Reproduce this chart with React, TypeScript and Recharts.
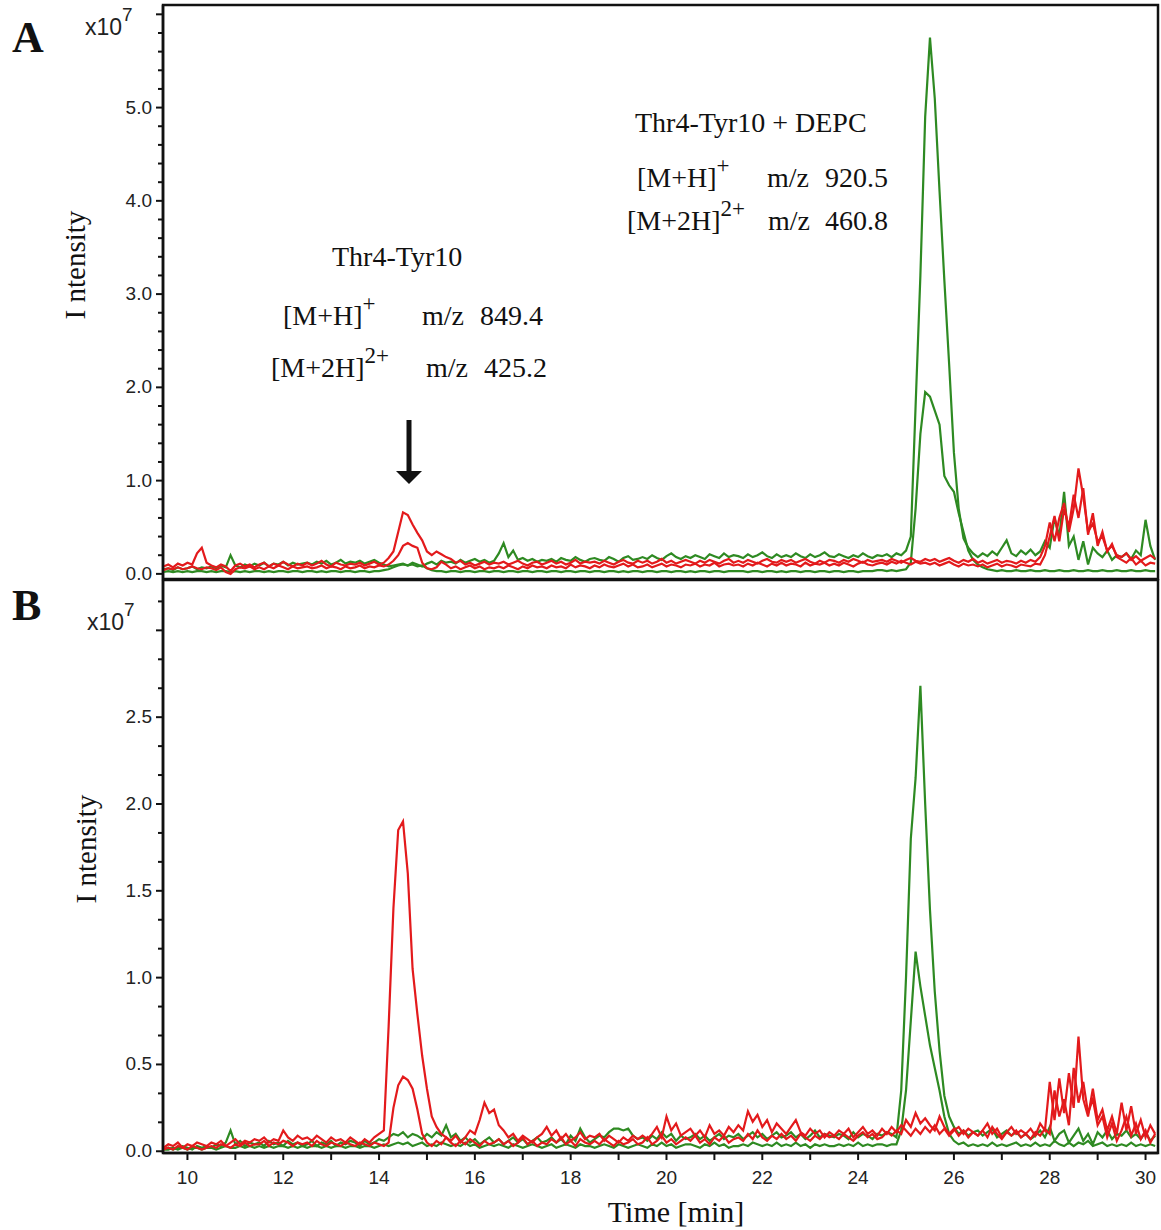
import { LineChart, Line, XAxis, YAxis, ReferenceArea } from 'recharts';

// retention time grid: one sample every 0.1 min starting at 9.5 min
const T0 = 9.5;
const DT = 0.1;

// extracted ion intensities, in units of 1e5 counts (100 = 1.0 x10^7)
// panel A
const aRedMH = [
  8, 10, 7, 11, 9, 12, 10, 22, 28, 12,
  9, 7, 10, 8, 3, 9, 11, 8, 10, 7,
  10, 12, 8, 11, 9, 13, 10, 8, 11, 9,
  12, 9, 11, 14, 10, 8, 12, 10, 9, 11,
  10, 12, 9, 11, 13, 10, 12, 17, 24, 45,
  66, 63, 53, 44, 36, 24, 20, 24, 21, 18,
  16, 12, 14, 10, 12, 9, 11, 13, 10, 12,
  11, 13, 10, 12, 14, 11, 9, 12, 13, 10,
  12, 14, 11, 13, 10, 12, 15, 11, 13, 12,
  13, 11, 14, 12, 10, 13, 15, 12, 11, 14,
  12, 14, 11, 13, 16, 12, 14, 11, 13, 15,
  13, 11, 14, 12, 15, 13, 11, 14, 16, 12,
  14, 12, 15, 13, 11, 14, 16, 13, 12, 15,
  13, 15, 12, 14, 16, 13, 11, 14, 12, 15,
  14, 12, 15, 13, 16, 14, 12, 15, 13, 14,
  15, 13, 16, 14, 12, 15, 17, 14, 13, 16,
  14, 16, 13, 15, 17, 14, 12, 15, 13, 16,
  12, 14, 11, 13, 15, 12, 14, 13, 11, 14,
  12, 15, 13, 18, 30, 55, 35, 60, 76, 45,
  70, 113, 83, 45, 54, 35, 40, 25, 30, 20,
  18, 22, 15, 19, 14, 17, 20, 16,
];
const aRed2H = [
  4, 6, 5, 7, 5, 6, 8, 6, 5, 7,
  6, 4, 7, 2, 0, 5, 7, 6, 8, 5,
  7, 5, 8, 6, 9, 7, 5, 8, 6, 7,
  8, 6, 7, 9, 6, 8, 7, 5, 8, 6,
  7, 9, 6, 8, 7, 9, 8, 10, 14, 20,
  30, 33, 30, 28, 12, 6, 5, 7, 13, 10,
  6, 8, 5, 7, 9, 6, 8, 5, 7, 6,
  8, 6, 9, 7, 5, 8, 6, 9, 7, 8,
  6, 9, 7, 8, 6, 10, 7, 9, 8, 6,
  9, 7, 10, 8, 7, 9, 11, 8, 10, 7,
  8, 10, 7, 9, 11, 8, 10, 9, 7, 10,
  9, 11, 8, 10, 9, 12, 8, 10, 11, 9,
  10, 8, 11, 9, 12, 10, 8, 11, 9, 12,
  9, 11, 10, 8, 12, 9, 11, 10, 12, 9,
  11, 9, 12, 10, 8, 11, 13, 10, 9, 11,
  12, 10, 13, 11, 14, 12, 10, 13, 11, 12,
  10, 12, 9, 11, 13, 10, 8, 11, 9, 10,
  8, 10, 7, 9, 11, 8, 10, 9, 7, 10,
  9, 8, 11, 10, 20, 40, 62, 35, 70, 50,
  85, 60, 92, 42, 65, 30, 45, 24, 32, 18,
  15, 12, 17, 10, 14, 9, 12, 11,
];
const aGreenMH = [
  5, 6, 4, 7, 5, 6, 8, 5, 7, 6,
  8, 6, 9, 7, 20, 9, 7, 10, 8, 11,
  9, 12, 8, 11, 10, 13, 9, 12, 10, 11,
  12, 10, 13, 11, 14, 10, 12, 15, 11, 13,
  12, 14, 11, 13, 15, 12, 10, 8, 9, 10,
  11, 9, 12, 10, 8, 11, 13, 10, 14, 12,
  13, 11, 15, 12, 14, 16, 13, 15, 12, 14,
  22, 33, 18, 25, 15, 17, 14, 16, 13, 15,
  14, 16, 13, 17, 15, 14, 18, 15, 13, 16,
  17, 15, 14, 18, 16, 13, 17, 19, 15, 16,
  18, 16, 20, 17, 15, 19, 22, 18, 16, 19,
  17, 20, 18, 16, 21, 19, 17, 22, 18, 20,
  19, 17, 21, 18, 20, 23, 19, 17, 21, 18,
  20, 18, 22, 19, 17, 21, 18, 20, 23, 19,
  18, 21, 19, 17, 20, 18, 22, 19, 17, 20,
  19, 21, 18, 22, 20, 25, 40, 180, 320, 490,
  575, 510, 410, 315, 225, 130, 70, 38, 28, 22,
  18, 22, 19, 24, 20, 28, 36, 22, 19, 25,
  21, 26, 20, 24, 35, 28, 60, 40, 88, 30,
  40, 15, 35, 10, 28, 22, 18, 25, 15, 20,
  18, 22, 16, 25, 20, 58, 30, 15,
];
const aGreen2H = [
  2, 3, 2, 3, 2, 3, 2, 3, 3, 2,
  3, 2, 3, 3, 2, 3, 2, 3, 2, 3,
  3, 2, 3, 2, 3, 3, 2, 3, 3, 2,
  3, 3, 2, 3, 2, 3, 3, 2, 3, 3,
  2, 3, 3, 2, 3, 3, 4, 5, 7, 9,
  10, 9, 10, 8, 9, 6, 4, 3, 3, 2,
  3, 3, 2, 3, 3, 2, 3, 3, 2, 3,
  3, 2, 3, 3, 2, 3, 3, 2, 3, 3,
  2, 3, 3, 2, 3, 3, 2, 3, 3, 2,
  3, 3, 2, 3, 3, 2, 3, 2, 3, 3,
  2, 3, 3, 2, 3, 3, 2, 3, 3, 2,
  3, 2, 3, 3, 2, 3, 3, 2, 3, 3,
  3, 3, 2, 3, 3, 2, 3, 3, 2, 3,
  2, 3, 3, 2, 3, 3, 2, 3, 3, 2,
  3, 3, 2, 3, 3, 2, 3, 3, 3, 4,
  4, 3, 4, 3, 4, 5, 12, 70, 150, 195,
  190, 175, 160, 105, 95, 88, 65, 45, 25, 15,
  10, 7, 5, 4, 3, 4, 3, 3, 4, 3,
  3, 4, 3, 3, 4, 3, 3, 4, 3, 3,
  4, 3, 3, 4, 3, 3, 4, 3, 3, 4,
  3, 3, 4, 3, 3, 4, 3, 3,
];

// panel B
const bRedMH = [
  2, 4, 3, 5, 2, 4, 3, 5, 4, 3,
  5, 4, 6, 3, 5, 7, 4, 6, 5, 7,
  6, 8, 5, 7, 6, 12, 8, 6, 9, 7,
  8, 6, 9, 7, 5, 8, 6, 7, 5, 8,
  6, 4, 7, 5, 8, 10, 12, 72, 140, 185,
  190, 160, 105, 79, 55, 36, 20, 14, 10, 8,
  6, 9, 5, 8, 12, 10, 18, 28, 22, 24,
  15, 12, 8, 10, 6, 9, 7, 5, 8, 10,
  14, 9, 12, 7, 10, 6, 8, 11, 7, 9,
  8, 10, 6, 9, 7, 5, 8, 6, 9, 7,
  9, 7, 10, 14, 8, 20, 12, 16, 9, 11,
  13, 9, 12, 8, 15, 10, 12, 9, 14, 11,
  15, 12, 23, 17, 21, 14, 18, 11, 16, 13,
  10, 14, 18, 11, 9, 13, 10, 12, 8, 11,
  9, 12, 10, 13, 8, 11, 14, 10, 12, 9,
  13, 10, 14, 11, 15, 12, 9, 13, 10, 14,
  11, 15, 10, 13, 9, 12, 14, 10, 13, 11,
  9, 12, 16, 10, 13, 8, 11, 14, 10, 12,
  10, 13, 9, 16, 12, 40, 18, 42, 22, 45,
  25, 66, 30, 20, 36, 18, 24, 12, 20, 10,
  28, 12, 26, 10, 18, 8, 15, 10,
];
const bRed2H = [
  1, 2, 1, 3, 2, 1, 3, 2, 1, 2,
  3, 2, 4, 3, 2, 4, 3, 5, 3, 4,
  4, 6, 3, 5, 4, 6, 5, 3, 5, 4,
  5, 3, 6, 4, 3, 5, 4, 3, 5, 4,
  3, 5, 4, 3, 5, 4, 3, 5, 25, 38,
  43, 41, 36, 24, 10, 5, 3, 6, 4, 8,
  5, 3, 6, 4, 7, 5, 3, 6, 4, 5,
  7, 4, 6, 3, 5, 8, 4, 6, 3, 5,
  4, 7, 5, 8, 4, 6, 3, 7, 5, 4,
  6, 4, 7, 5, 3, 6, 4, 5, 7, 4,
  5, 8, 4, 6, 9, 5, 7, 4, 6, 8,
  6, 9, 5, 7, 4, 8, 6, 9, 5, 7,
  8, 6, 10, 7, 12, 8, 6, 9, 7, 10,
  7, 9, 6, 10, 8, 6, 9, 7, 10, 8,
  9, 7, 10, 8, 6, 9, 11, 8, 10, 7,
  8, 11, 9, 12, 10, 18, 14, 22, 16, 19,
  15, 12, 20, 14, 10, 13, 9, 12, 8, 11,
  9, 12, 8, 14, 10, 7, 11, 9, 12, 8,
  10, 7, 11, 9, 13, 10, 35, 20, 30, 15,
  48, 28, 40, 22, 30, 15, 20, 8, 16, 6,
  12, 20, 9, 16, 7, 12, 5, 10,
];
const bGreenMH = [
  1, 2, 1, 2, 3, 2, 1, 3, 2, 3,
  2, 4, 3, 5, 12, 4, 6, 3, 5, 4,
  5, 3, 6, 4, 5, 3, 6, 4, 5, 3,
  4, 6, 3, 5, 4, 6, 3, 5, 4, 6,
  5, 3, 6, 4, 5, 7, 6, 8, 10, 9,
  11, 8, 10, 9, 7, 10, 8, 11, 9, 15,
  8, 10, 6, 8, 5, 7, 4, 6, 8, 5,
  7, 4, 6, 8, 5, 7, 4, 6, 8, 5,
  6, 8, 5, 7, 4, 9, 6, 13, 8, 5,
  7, 9, 8, 11, 13, 13, 12, 13, 9, 7,
  8, 6, 9, 7, 11, 8, 10, 6, 9, 7,
  8, 10, 7, 9, 6, 8, 10, 7, 9, 8,
  10, 7, 9, 11, 8, 10, 7, 9, 11, 8,
  9, 11, 8, 10, 7, 9, 12, 8, 10, 9,
  8, 10, 9, 7, 11, 8, 10, 9, 7, 10,
  9, 11, 10, 8, 35, 100, 180, 215, 268, 200,
  139, 92, 58, 32, 20, 14, 10, 12, 9, 11,
  12, 9, 11, 13, 8, 10, 12, 9, 11, 8,
  10, 7, 9, 12, 8, 14, 6, 10, 12, 5,
  9, 13, 6, 10, 4, 11, 8, 12, 7, 10,
  9, 12, 8, 10, 7, 11, 6, 9,
];
const bGreen2H = [
  1, 1, 2, 1, 2, 1, 2, 2, 1, 2,
  2, 1, 2, 3, 2, 2, 3, 2, 3, 2,
  3, 2, 3, 2, 3, 3, 2, 3, 2, 3,
  2, 3, 3, 2, 3, 2, 3, 3, 2, 3,
  3, 2, 3, 3, 2, 3, 4, 3, 4, 5,
  4, 5, 3, 4, 5, 3, 4, 3, 5, 4,
  3, 4, 3, 5, 3, 4, 2, 3, 4, 3,
  4, 3, 2, 4, 3, 2, 3, 4, 3, 2,
  3, 4, 2, 3, 4, 3, 2, 4, 3, 3,
  2, 3, 4, 3, 2, 4, 3, 2, 3, 4,
  3, 2, 4, 3, 5, 3, 4, 2, 3, 4,
  4, 3, 2, 4, 3, 5, 3, 4, 2, 3,
  3, 4, 3, 5, 4, 3, 4, 3, 5, 3,
  4, 3, 5, 3, 4, 2, 4, 3, 4, 3,
  3, 4, 3, 4, 3, 5, 3, 4, 3, 4,
  4, 3, 4, 4, 12, 35, 75, 115, 95, 78,
  61, 48, 35, 20, 10, 6, 4, 5, 3, 4,
  3, 4, 3, 5, 3, 4, 3, 4, 5, 3,
  4, 3, 5, 3, 4, 3, 6, 4, 3, 5,
  3, 5, 4, 6, 3, 4, 5, 3, 4, 3,
  4, 3, 5, 3, 4, 3, 4, 3,
];

const xTicks = [10, 11, 12, 13, 14, 15, 16, 17, 18, 19, 20, 21, 22, 23, 24, 25, 26, 27, 28, 29, 30];
const aYTicks = [
  0, 20, 40, 60, 80, 100, 120, 140, 160, 180, 200, 220, 240, 260, 280, 300,
  320, 340, 360, 380, 400, 420, 440, 460, 480, 500, 520, 540, 560, 580, 600,
];
const bYTicks = [
  0, 16.67, 33.33, 50, 66.67, 83.33, 100, 116.67, 133.33, 150, 166.67, 183.33,
  200, 216.67, 233.33, 250, 266.67, 283.33, 300, 316.67,
];

const X_DOMAIN: [number, number] = [9.49, 30.26];
const A_DOMAIN: [number, number] = [-5.5, 610];
const B_DOMAIN: [number, number] = [-1, 329];

const RED = '#e31a1c';
const GREEN = '#2e8a22';
const INK = '#111';
const SANS = '"Liberation Sans", Arial, sans-serif';
const SERIF = '"Liberation Serif", "Times New Roman", serif';

function buildRows(r1: number[], r2: number[], g1: number[], g2: number[]) {
  const n = Math.min(r1.length, r2.length, g1.length, g2.length);
  const rows = [];
  for (let i = 0; i < n; i++) {
    rows.push({ t: +(T0 + i * DT).toFixed(1), r1: r1[i], r2: r2[i], g1: g1[i], g2: g2[i] });
  }
  return rows;
}

const rowsA = buildRows(aRedMH, aRed2H, aGreenMH, aGreen2H);
const rowsB = buildRows(bRedMH, bRed2H, bGreenMH, bGreen2H);

const YTick = (props: any) => {
  const { x, y, payload, step, maxLabel } = props;
  const v = payload.value;
  const isMajor = Math.abs(v / step - Math.round(v / step)) < 1e-3;
  return (
    <g>
      <line x1={x} x2={x - (isMajor ? 7 : 5)} y1={y} y2={y} stroke={INK} strokeWidth={2} />
      {isMajor && v <= maxLabel && (
        <text x={x - 11} y={y + 6} textAnchor="end" fontFamily={SANS} fontSize={19} fill="#222">
          {(v / 100).toFixed(1)}
        </text>
      )}
    </g>
  );
};

const XTick = (props: any) => {
  const { x, y, payload } = props;
  const v = payload.value;
  return (
    <g>
      <line x1={x} x2={x} y1={y} y2={y + 7} stroke={INK} strokeWidth={2} />
      {v % 2 === 0 && (
        <text x={x} y={y + 31} textAnchor="middle" fontFamily={SANS} fontSize={19} fill="#222">
          {v}
        </text>
      )}
    </g>
  );
};

function traces() {
  return [
    <Line key="g2" dataKey="g2" type="linear" stroke={GREEN} strokeWidth={2.2} dot={false} isAnimationActive={false} />,
    <Line key="g1" dataKey="g1" type="linear" stroke={GREEN} strokeWidth={2.2} dot={false} isAnimationActive={false} />,
    <Line key="r2" dataKey="r2" type="linear" stroke={RED} strokeWidth={2.2} dot={false} isAnimationActive={false} />,
    <Line key="r1" dataKey="r1" type="linear" stroke={RED} strokeWidth={2.2} dot={false} isAnimationActive={false} />,
  ];
}

function Annotations() {
  const txt = { fontFamily: SERIF, fontSize: 28, fill: INK };
  const sup = { fontSize: 23 };
  return (
    <svg width={1161} height={1230} style={{ position: 'absolute', left: 0, top: 0, pointerEvents: 'none' }}>
      <text x={12} y={52} fontFamily={SERIF} fontWeight="bold" fontSize={44} fill={INK}>A</text>
      <text x={12} y={620} fontFamily={SERIF} fontWeight="bold" fontSize={44} fill={INK}>B</text>

      <text x={85} y={35} fontFamily={SANS} fontSize={23} fill="#222">
        x10<tspan dy={-14} fontSize={19}>7</tspan>
      </text>
      <text x={87} y={630} fontFamily={SANS} fontSize={23} fill="#222">
        x10<tspan dy={-14} fontSize={19}>7</tspan>
      </text>

      <text transform="translate(85,265) rotate(-90)" textAnchor="middle" fontFamily={SERIF} fontSize={29} fill={INK}>
        I ntensity
      </text>
      <text transform="translate(96,849) rotate(-90)" textAnchor="middle" fontFamily={SERIF} fontSize={29} fill={INK}>
        I ntensity
      </text>
      <text x={676} y={1222} textAnchor="middle" fontFamily={SERIF} fontSize={30} fill={INK}>
        Time [min]
      </text>

      <text x={332} y={266} {...txt}>Thr4-Tyr10</text>
      <text x={283} y={325} {...txt}>[M+H]<tspan dy={-14} {...sup}>+</tspan></text>
      <text x={422} y={325} {...txt}>m/z</text>
      <text x={480} y={325} {...txt}>849.4</text>
      <text x={271} y={377} {...txt}>[M+2H]<tspan dy={-14} {...sup}>2+</tspan></text>
      <text x={426} y={377} {...txt}>m/z</text>
      <text x={484} y={377} {...txt}>425.2</text>

      <text x={635} y={132} {...txt}>Thr4-Tyr10 + DEPC</text>
      <text x={637} y={187} {...txt}>[M+H]<tspan dy={-14} {...sup}>+</tspan></text>
      <text x={767} y={187} {...txt}>m/z</text>
      <text x={825} y={187} {...txt}>920.5</text>
      <text x={627} y={230} {...txt}>[M+2H]<tspan dy={-14} {...sup}>2+</tspan></text>
      <text x={768} y={230} {...txt}>m/z</text>
      <text x={825} y={230} {...txt}>460.8</text>

      <line x1={409} x2={409} y1={420} y2={474} stroke={INK} strokeWidth={5} />
      <polygon points="396,471 422,471 409,484" fill={INK} />
    </svg>
  );
}

export default function App() {
  return (
    <div style={{ position: 'absolute', left: 0, top: 0, width: 1161, height: 1230, background: '#fff' }}>
      <div style={{ position: 'absolute', left: 0, top: 0 }}>
        <LineChart width={1161} height={592} data={rowsA} margin={{ top: 5, right: 3, bottom: 13, left: 162 }}>
          <XAxis dataKey="t" type="number" domain={X_DOMAIN} allowDataOverflow hide />
          <YAxis
            type="number"
            domain={A_DOMAIN}
            allowDataOverflow
            width={1}
            ticks={aYTicks}
            interval={0}
            tickSize={0}
            tickMargin={0}
            axisLine={{ stroke: INK, strokeWidth: 2.5 }}
            tick={(p: any) => <YTick {...p} step={100} maxLabel={500} />}
          />
          <ReferenceArea x1={X_DOMAIN[0]} x2={X_DOMAIN[1]} y1={A_DOMAIN[0]} y2={A_DOMAIN[1]} fill="none" stroke={INK} strokeWidth={2.5} ifOverflow="visible" />
          {traces()}
        </LineChart>
      </div>
      <div style={{ position: 'absolute', left: 0, top: 579 }}>
        <LineChart width={1161} height={651} data={rowsB} margin={{ top: 1, right: 3, bottom: 76, left: 162 }}>
          <XAxis
            dataKey="t"
            type="number"
            domain={X_DOMAIN}
            allowDataOverflow
            height={1}
            ticks={xTicks}
            interval={0}
            tickSize={0}
            tickMargin={0}
            axisLine={{ stroke: INK, strokeWidth: 2.5 }}
            tick={(p: any) => <XTick {...p} />}
          />
          <YAxis
            type="number"
            domain={B_DOMAIN}
            allowDataOverflow
            width={1}
            ticks={bYTicks}
            interval={0}
            tickSize={0}
            tickMargin={0}
            axisLine={{ stroke: INK, strokeWidth: 2.5 }}
            tick={(p: any) => <YTick {...p} step={50} maxLabel={250} />}
          />
          <ReferenceArea x1={X_DOMAIN[0]} x2={X_DOMAIN[1]} y1={B_DOMAIN[0]} y2={B_DOMAIN[1]} fill="none" stroke={INK} strokeWidth={2.5} ifOverflow="visible" />
          {traces()}
        </LineChart>
      </div>
      <Annotations />
    </div>
  );
}
